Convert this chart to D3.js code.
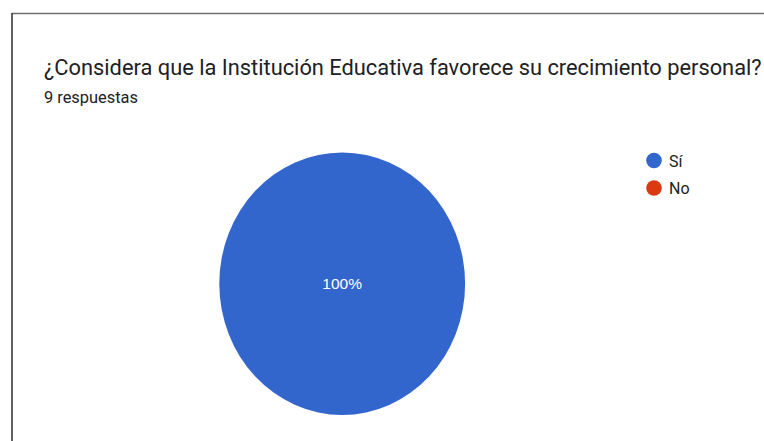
<!DOCTYPE html>
<html>
<head>
<meta charset="utf-8">
<script src="https://cdn.jsdelivr.net/npm/d3@7"></script>
<style>
  html, body { margin: 0; padding: 0; background: #ffffff; }
  svg { display: block; }
</style>
</head>
<body>
<svg id="chart" width="764" height="441"></svg>
<script>
// Survey answers
const title = "¿Considera que la Institución Educativa favorece su crecimiento personal?";
const subtitle = "9 respuestas";
const categories = ["Sí", "No"];
const counts = [9, 0];
const colors = ["#3366cc", "#dc3912"];

const svg = d3.select("#chart");
const W = 764, H = 441;

// Card frame: top and left edges
svg.append("line")
  .attr("x1", 12).attr("x2", W).attr("y1", 13.5).attr("y2", 13.5)
  .attr("stroke", "#6f6f6f").attr("stroke-width", 1.5);
svg.append("line")
  .attr("x1", 12).attr("x2", 12).attr("y1", 13).attr("y2", H)
  .attr("stroke", "#2e2e2e").attr("stroke-width", 1.5);

// Fit a text element's font size so its width equals the given width
function fitText(sel, target) {
  const base = parseFloat(sel.attr("font-size"));
  const w = sel.node().getComputedTextLength();
  sel.attr("font-size", (base * target / w).toFixed(2));
}

const titleText = svg.append("text")
  .attr("x", 44).attr("y", 75)
  .attr("font-family", "Roboto, 'Noto Sans', sans-serif")
  .attr("font-size", 22)
  .attr("fill", "#202124")
  .text(title);
fitText(titleText, 718);

const subText = svg.append("text")
  .attr("x", 44).attr("y", 103)
  .attr("font-family", "Roboto, 'Noto Sans', sans-serif")
  .attr("font-size", 15)
  .attr("fill", "#202124")
  .text(subtitle);
fitText(subText, 94);

// Pie, drawn in a unit circle and stretched to the plot ellipse
const cx = 342.2, cy = 283.7, rx = 122.9, ry = 131.3;
const data = categories.map((c, i) => ({ name: c, value: counts[i], color: colors[i] }));
const total = d3.sum(counts);

const pie = d3.pie().value(d => d.value).sort(null);
const arc = d3.arc().innerRadius(0).outerRadius(1);
const arcs = pie(data);

const g = svg.append("g")
  .attr("transform", `translate(${cx},${cy}) scale(${rx},${ry})`);
g.selectAll("path")
  .data(arcs.filter(a => a.data.value > 0))
  .join("path")
  .attr("d", arc)
  .attr("fill", d => d.data.color);

// Percentage labels
const labelArc = d3.arc().innerRadius(0).outerRadius(0);
svg.selectAll("text.pct")
  .data(arcs.filter(a => a.data.value > 0))
  .join("text")
  .attr("class", "pct")
  .attr("x", d => {
    const frac = d.data.value / total;
    return frac >= 0.999 ? cx : cx + labelArc.centroid(d)[0] * rx;
  })
  .attr("y", d => {
    const frac = d.data.value / total;
    return (frac >= 0.999 ? cy : cy + labelArc.centroid(d)[1] * ry) + 5.5;
  })
  .attr("text-anchor", "middle")
  .attr("font-family", "Arial, 'Liberation Sans', sans-serif")
  .attr("font-size", 15.5)
  .attr("fill", "#ffffff")
  .text(d => d3.format(".0%")(d.data.value / total));

// Legend
const legend = svg.append("g").attr("transform", "translate(654,160.5)");
const item = legend.selectAll("g")
  .data(data)
  .join("g")
  .attr("transform", (d, i) => `translate(0,${i * 27.5})`);
item.append("circle")
  .attr("r", 7.8)
  .attr("fill", d => d.color);
item.append("text")
  .attr("x", 15).attr("y", 6)
  .attr("font-family", "Roboto, 'Noto Sans', sans-serif")
  .attr("font-size", 16)
  .attr("fill", "#222222")
  .text(d => d.name);
</script>
</body>
</html>
